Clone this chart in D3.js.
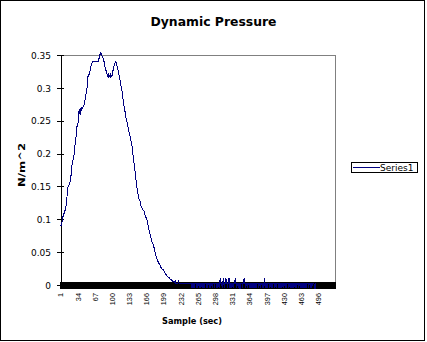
<!DOCTYPE html>
<html>
<head>
<meta charset="utf-8">
<script src="https://cdn.jsdelivr.net/npm/d3@7"></script>
<style>
  html, body { margin: 0; padding: 0; background: #fff; }
  svg { display: block; }
</style>
</head>
<body>
<script>
// Dynamic pressure per sample, in thousandths of N/m^2 (samples 1..492)
const pressureMilli = [
  90,90,90,90,104,104,104,108,112,113,
  113,120,127,135,145,150,150,152,155,158,
  160,170,180,185,188,192,196,200,212,215,
  222,235,241,243,246,252,264,260,269,259,
  266,269,268,270,271,271,275,281,282,288,
  294,296,305,317,317,320,322,325,328,333,
  337,338,340,340,340,340,340,340,340,340,
  340,340,340,340,343,347,350,352,354,351,
  349,347,345,345,340,336,332,328,326,325,
  320,316,322,315,320,316,322,315,319,316,
  322,325,330,333,336,337,340,339,335,333,
  330,327,323,319,315,310,305,302,298,292,
  287,280,274,269,265,262,256,250,249,245,
  240,237,233,229,226,222,218,214,210,203,
  196,190,183,177,170,163,156,150,145,140,
  134,131,129,129,124,120,119,117,115,114,
  113,112,109,106,104,102,100,97,93,89,
  85,81,79,75,72,69,66,64,62,61,
  57,54,50,47,44,41,39,37,35,34,
  32,31,29,27,26,25,24,23,23,21,
  20,19,17,16,15,14,13,12,11,11,
  10,9,8,8,7,7,6,6,5,5,
  4,8,3,3,3,3,3,8,3,3,
  3,3,3,3,3,3,3,3,3,3,
  3,3,3,3,3,3,3,3,3,3,
  3,3,-5,3,3,-5,3,3,-5,3,
  3,3,-5,3,-5,3,3,3,-5,3,
  -5,3,3,3,-5,3,3,-5,3,3,
  3,-5,3,-5,3,3,3,-5,3,-5,
  3,3,-5,3,3,3,-5,3,3,3,
  -5,3,-5,3,3,-5,3,10,3,3,
  3,-5,3,10,3,-5,3,3,10,3,
  3,-5,3,3,10,3,-5,3,3,-5,
  3,3,-5,3,3,3,10,3,3,-5,
  3,3,-5,3,3,-5,-5,3,3,3,
  -5,3,3,10,3,3,-5,3,3,-5,
  3,3,3,-5,3,-5,3,3,-5,3,
  -5,3,3,3,-5,3,3,-5,3,3,
  3,-5,3,3,-5,3,3,3,-5,3,
  3,-5,10,3,3,-5,3,3,-5,3,
  3,3,-5,3,3,-5,3,-5,3,3,
  3,3,-5,3,3,-5,3,3,3,-5,
  3,3,-5,3,3,-5,3,3,-5,3,
  3,3,-5,3,-5,3,3,3,3,-5,
  3,3,-5,3,3,-5,3,3,-5,3,
  3,-5,3,3,-5,3,3,3,-5,3,
  3,-5,3,3,-5,3,-5,3,3,3,
  -5,3,3,-5,3,3,3,-5,3,3,
  3,-5,3,-5,3,3,3,3,-5,-5,
  3,-6
];
const sampleCount = 528;            // categories on the x axis
const labelStep = 33;               // every 33rd sample is labelled
const yTickValues = [0, 0.05, 0.1, 0.15, 0.2, 0.25, 0.3, 0.35];
const seriesName = "Series1";

const W = 427, H = 342;
const plot = { left: 60, right: 335, top: 55, bottom: 285 };
const navy = "#000080";

const samples = d3.range(1, sampleCount + 1);
const pressure = pressureMilli.map(v => v / 1000);
const xLabels = samples.filter(s => (s - 1) % labelStep === 0);

const x = d3.scalePoint().domain(samples).range([plot.left, plot.right]).padding(0.5);
const xBand = d3.scaleBand().domain(samples).range([plot.left, plot.right]);
const y = d3.scaleLinear().domain([0, 0.35]).range([plot.bottom, plot.top]);

const svg = d3.select("body").append("svg")
  .attr("width", W).attr("height", H)
  .attr("font-family", "'DejaVu Sans', sans-serif");

// chart frame
svg.append("rect")
  .attr("x", 0.5).attr("y", 0.5).attr("width", W - 3).attr("height", H - 2)
  .attr("fill", "#fff").attr("stroke", "#000").attr("stroke-width", 1)
  .attr("shape-rendering", "crispEdges");

// title
svg.append("text")
  .attr("x", 213.5).attr("y", 26)
  .attr("text-anchor", "middle")
  .attr("font-size", 12.4).attr("font-weight", "bold")
  .text("Dynamic Pressure");

// plot area: gray top and right edges
const g = svg.append("g").attr("shape-rendering", "crispEdges");
g.append("path")
  .attr("d", `M${plot.left},${plot.top + 0.5}H${plot.right + 0.5}V${plot.bottom}`)
  .attr("fill", "none").attr("stroke", "#808080");

// y axis with crossing ticks
const yAxis = d3.axisLeft(y).tickValues(yTickValues).tickSize(0).tickFormat(d => d3.format("")(+d.toFixed(2)));
const ya = svg.append("g").attr("transform", `translate(${plot.left + 0.5},0)`).call(yAxis);
ya.select(".domain").attr("stroke", "#000").attr("shape-rendering", "crispEdges");
ya.selectAll(".tick line")
  .attr("x1", -3.5).attr("x2", 3.5).attr("stroke", "#000").attr("shape-rendering", "crispEdges");
ya.selectAll(".tick text")
  .attr("x", -9.5).attr("dy", "0.36em")
  .attr("font-size", 9).attr("font-family", "'DejaVu Sans', sans-serif").attr("fill", "#000");

// x axis: one crossing tick at every category boundary
const bounds = samples.map(s => xBand(s)).concat([plot.right]);
g.append("g").selectAll("line").data(bounds).join("line")
  .attr("x1", d => Math.round(d) + 0.5).attr("x2", d => Math.round(d) + 0.5)
  .attr("y1", 282).attr("y2", 289)
  .attr("stroke", "#000");
g.append("line")
  .attr("x1", plot.left).attr("x2", plot.right + 1)
  .attr("y1", plot.bottom + 0.5).attr("y2", plot.bottom + 0.5)
  .attr("stroke", "#000");

// x tick labels, rotated
svg.append("g").selectAll("text").data(xLabels).join("text")
  .attr("transform", d => `translate(${x(d) + 0.5},293) rotate(-90)`)
  .attr("text-anchor", "end").attr("dy", "0.35em")
  .attr("font-size", 7.3).attr("font-family", "'Liberation Sans', Arial, sans-serif")
  .text(d => d);

// axis titles
svg.append("text")
  .attr("x", 192).attr("y", 324)
  .attr("text-anchor", "middle")
  .attr("font-size", 8.6).attr("font-weight", "bold")
  .attr("textLength", 60).attr("lengthAdjust", "spacingAndGlyphs")
  .text("Sample (sec)");
svg.append("text")
  .attr("transform", "translate(25,165) rotate(-90)")
  .attr("text-anchor", "middle")
  .attr("font-size", 9).attr("font-weight", "bold")
  .attr("textLength", 44).attr("lengthAdjust", "spacingAndGlyphs")
  .text("N/m^2");

// data line
const line = d3.line()
  .x((d, i) => x(samples[i]))
  .y(d => y(d));
svg.append("path")
  .datum(pressure)
  .attr("d", line)
  .attr("fill", "none")
  .attr("stroke", navy)
  .attr("stroke-width", 1)
  .attr("shape-rendering", "crispEdges");

// legend
const lg = svg.append("g").attr("transform", "translate(351.5,162.5)");
lg.append("rect").attr("width", 66).attr("height", 10)
  .attr("fill", "#fff").attr("stroke", "#000").attr("shape-rendering", "crispEdges");
lg.append("line").attr("x1", 1.5).attr("x2", 28).attr("y1", 5).attr("y2", 5)
  .attr("stroke", navy).attr("shape-rendering", "crispEdges");
lg.append("text").attr("x", 28.5).attr("y", 8.6)
  .attr("font-size", 9).text(seriesName);
</script>
</body>
</html>
